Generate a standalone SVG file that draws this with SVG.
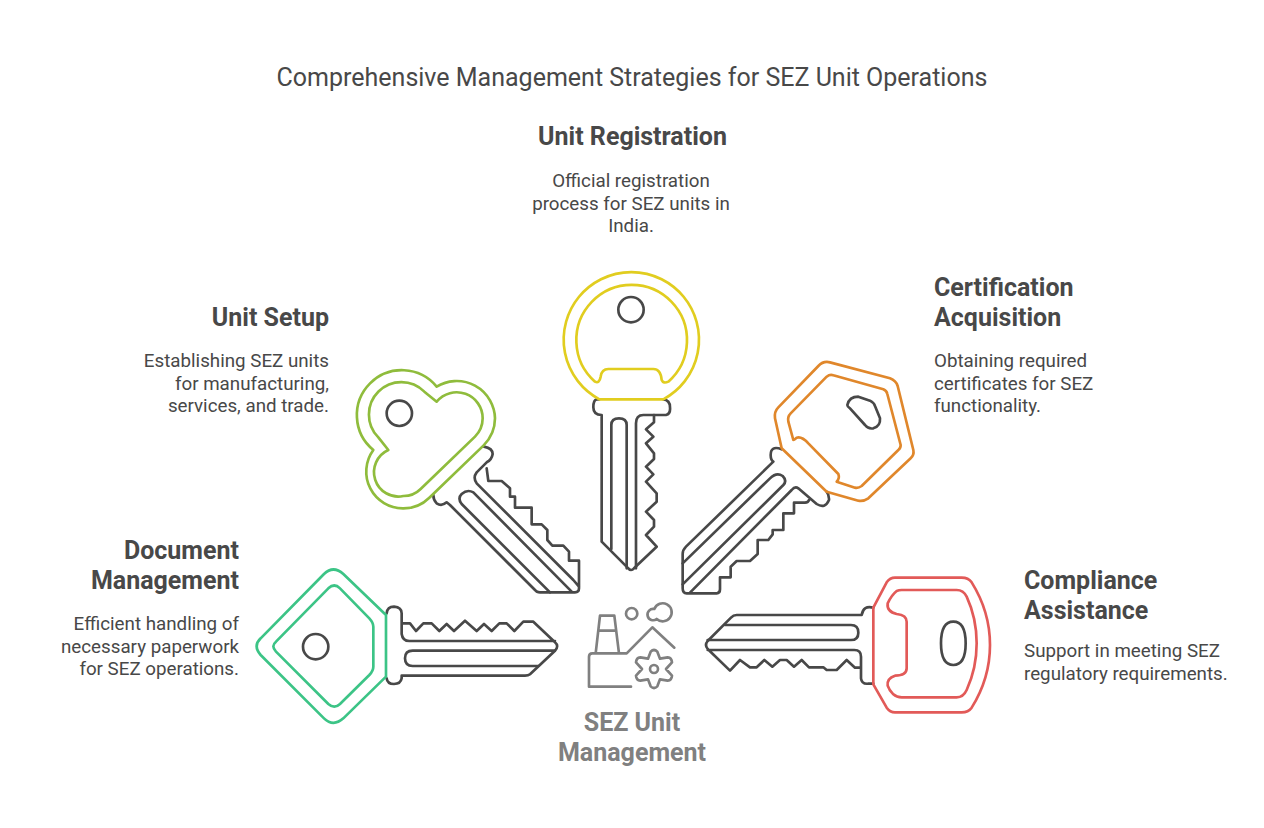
<svg xmlns="http://www.w3.org/2000/svg" width="1264" height="828" viewBox="0 0 1264 828">
<style>
text{font-family:Roboto,"Liberation Sans",sans-serif;fill:#484848}
.t{font-size:25px}
.h{font-size:25px;font-weight:700}
.b{font-size:18.75px}
.e{text-anchor:end}
.m{text-anchor:middle}
path,circle,ellipse{fill:none;stroke-linejoin:round;stroke-linecap:round}
.k{stroke:#484848;stroke-width:8}
.o{stroke-width:8}
.y{stroke:#e1cd1f}.g{stroke:#8fbc3c}.r{stroke:#e0872b}.d{stroke:#3cc486}.c{stroke:#e25a58}
.i{stroke:#808080;stroke-width:8}
</style>
<rect width="1264" height="828" fill="#ffffff"/>
<text class="t m" x="632" y="85.5">Comprehensive Management Strategies for SEZ Unit Operations</text>
<g id="connectors"/>
<g id="unit-registration">
<g transform="translate(540,260) scale(.33333)">
<path class="k" d="M178 418H170Q160 420 160 442Q160 465 185 465V845L265 925Q273 935 282 925L350 860L318 825L342 800V780L318 755L350 725V700L318 665L340 643L318 620L342 597V580L318 550L340 530L318 508L342 487V465H378Q392 462 390 442Q390 420 370 418"/>
<path class="k" d="M214 867V495Q214 475 237 475Q260 475 260 495V925M288 925V490Q288 465 310 465H342"/>
<circle class="k" cx="273" cy="149" r="38"/>
<path class="o y" d="M178 418A203 203 0 1 1 370 418Z"/>
<path class="o y" d="M165 365A166 166 0 1 1 385 365Q370 372 365 360Q362 327 340 327H205Q185 327 182 350Q178 372 165 365Z"/>
</g>
<text class="h m" x="632.500" y="144.500">Unit Registration</text>
<text class="b m" x="631" y="187">Official registration</text>
<text class="b m" x="631" y="210">process for SEZ units in</text>
<text class="b m" x="631" y="232">India.</text>
</g>
<g id="unit-setup">
<g transform="translate(340,355) scale(.33333)">
<path class="k" d="M432 275Q458 280 458 297Q455 315 440 322L410 352Q398 368 410 385L700 675L717 695M440 340L445 378H485L510 400V425H525V458H575V508H605L622 525V555L637 572H670L687 590V617H717V700Q717 712 705 712H600Q590 712 585 705L330 450L320 442Q305 455 290 445Q280 435 280 420"/>
<path class="k" d="M630 712L365 447Q352 430 365 417Q382 402 400 412L695 710"/>
<circle class="k" cx="178" cy="175" r="38"/>
<path class="o g" d="M290 95A115 115 0 0 1 465 190A115 115 0 0 1 431 271L268 428A110 110 0 0 1 190 460A110 110 0 0 1 100 285A135 135 0 1 1 290 95Z"/>
<path class="o g" d="M290 140A78 78 0 0 1 428 190A78 78 0 0 1 405 245L242 402A73 73 0 0 1 190 423A73 73 0 0 1 145 285L115 247A97 97 0 1 1 253 110Z"/>
</g>
<text class="h e" x="329" y="325.500">Unit Setup</text>
<text class="b e" x="329" y="367">Establishing SEZ units</text>
<text class="b e" x="329" y="390">for manufacturing,</text>
<text class="b e" x="329" y="412">services, and trade.</text>
</g>
<g id="certification-acquisition">
<g transform="translate(670,350) scale(.33333)">
<path class="k" d="M335 298Q302 285 302 315Q302 330 310 335L48 590Q38 600 38 612V715Q38 730 50 730H140Q150 730 150 718V682H182V650L200 633H240L263 612V570H295L308 553V540H340V490H372V458H405Q415 458 418 448M385 415Q375 408 365 420L60 728M385 415L440 462Q465 478 477 450Q478 435 470 425"/>
<path class="k" d="M38 640L300 385Q320 365 338 378Q352 392 340 405L38 703"/>
<path class="k" d="M532 165Q538 140 565 140L600 152Q612 158 615 168L630 205Q632 228 610 235Q595 238 585 225L540 175Q532 170 532 165Z"/>
<path class="o r" d="M335 295L315 205Q312 185 325 172L445 48Q460 32 480 37L660 85Q678 92 683 108L730 300Q733 315 722 325L595 445Q580 455 565 452L470 425Z"/>
<path class="o r" d="M370 270L355 215Q352 200 362 190L470 80Q480 72 490 76L640 118Q650 122 652 132L692 285Q692 295 685 300L575 408Q565 415 555 413L500 395Q510 385 505 372L415 280Q395 258 380 263Q372 270 370 270Z"/>
</g>
<text class="h" x="934" y="295.500">Certification</text>
<text class="h" x="934" y="325.500">Acquisition</text>
<text class="b" x="934" y="367">Obtaining required</text>
<text class="b" x="934" y="390">certificates for SEZ</text>
<text class="b" x="934" y="412">functionality.</text>
</g>
<g id="document-management">
<g transform="translate(250,560) scale(.33333)">
<path class="k" d="M410 160Q412 140 432 140Q455 142 455 160V222Q458 243 478 243H915M455 190H480L498 213L520 190H545L568 213L590 192L612 213L645 182L680 213L702 192L725 213L748 190H770L793 213L820 185H850L915 247Q928 258 915 272L840 343Q835 347 825 347H455V355Q452 372 432 372Q412 372 410 355"/>
<path class="k" d="M915 272H488Q465 272 465 295Q465 318 488 318H865"/>
<circle class="k" cx="197" cy="260" r="38"/>
<path class="o d" d="M408 165L280 42Q250 15 222 42L32 235Q8 258 32 285L222 475Q250 502 280 475L408 350Z"/>
<path class="o d" d="M235 85Q253 68 270 85L358 175Q370 188 370 200V320Q370 332 358 345L270 432Q253 448 235 432L78 275Q62 258 78 245Z"/>
</g>
<text class="h e" x="239" y="558.500">Document</text>
<text class="h e" x="239" y="588.500">Management</text>
<text class="b e" x="239" y="630">Efficient handling of</text>
<text class="b e" x="239" y="652.500">necessary paperwork</text>
<text class="b e" x="239" y="675">for SEZ operations.</text>
</g>
<g id="compliance-assistance">
<g transform="translate(695,565) scale(.33333)">
<path class="k" d="M535 128Q505 120 500 150H125Q115 150 108 158L38 228Q28 240 38 252L105 317L135 285L165 307H185L208 285L232 305L255 285H275L297 305L320 285L342 307H385L395 315H425L455 285L480 308H498M498 340Q500 358 520 356H535M38 255H478Q498 255 498 275V340"/>
<path class="k" d="M90 180H468Q490 180 490 203Q490 225 468 225H38"/>
<path class="k" d="M775 170C800 170 812 190 812 235C812 280 800 300 775 300C750 300 738 280 738 235C738 190 750 170 775 170Z"/>
<path class="o c" d="M535 128L575 52Q585 38 600 38H800Q820 38 830 52Q885 140 885 240Q885 340 830 428Q820 442 800 442H600Q585 442 575 428L535 358Z"/>
<path class="o c" d="M578 115Q590 90 605 78Q612 75 620 75H785Q805 75 815 95Q845 160 845 235Q845 310 815 375Q805 397 785 397H620Q605 397 595 388Q582 375 578 362Q575 340 600 332Q635 332 635 310V170Q635 150 605 147Q575 140 578 115Z"/>
</g>
<text class="h" x="1024" y="588.500">Compliance</text>
<text class="h" x="1024" y="618.500">Assistance</text>
<text class="b" x="1024" y="657">Support in meeting SEZ</text>
<text class="b" x="1024" y="679.500">regulatory requirements.</text>
</g>
<g id="sez-unit-management">
<g transform="translate(575,595) scale(.33333)">
<path class="i" d="M62 175L75 62H118L132 175M72 107H122M168 275H42V185Q42 175 52 175H155L232 97L298 158"/>
<circle class="i" cx="170" cy="56" r="17"/>
<path class="i" d="M238 42A27 27 0 1 1 245 72A17 17 0 1 1 238 42Z"/>
<circle class="i" cx="237" cy="222" r="12"/>
<path class="i" d="M227 170Q237 160 247 170L255 191L278 187Q290 188 291 202L273 222L291 242Q290 256 278 257L255 253L247 274Q237 284 227 274L219 253L196 257Q184 256 183 242L201 222L183 202Q184 188 196 187L219 191Z"/>
</g>
<text class="h m" x="632" y="730.500" style="fill:#808080">SEZ Unit</text>
<text class="h m" x="632" y="760.500" style="fill:#808080">Management</text>
</g>
</svg>
